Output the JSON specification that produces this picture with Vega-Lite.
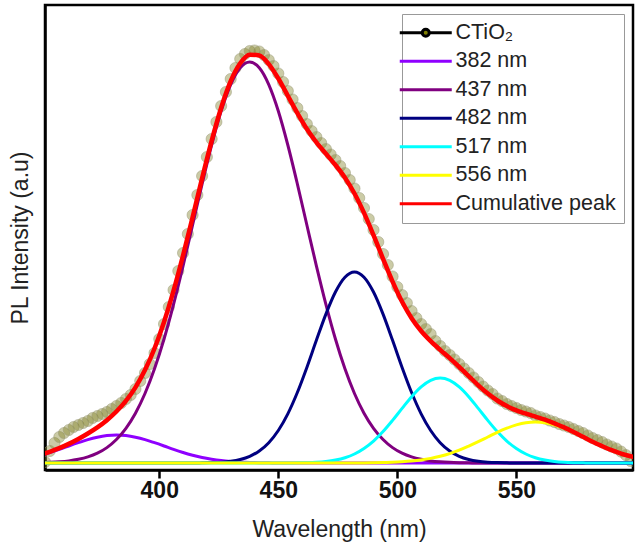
{
"$schema": "https://vega.github.io/schema/vega-lite/v6.json",
"width": 588, "height": 465,
"autosize": {"type": "none"},
"padding": {"left": 45, "top": 5, "right": 11, "bottom": 85},
"background": "white",
"config": {
 "view": {"stroke": "black", "strokeWidth": 2.5},
 "font": "Liberation Sans"
},
"data": {"values": [
{"s":"CTiO₂","x":352,"y":1},{"s":"CTiO₂","x":354,"y":12},{"s":"CTiO₂","x":356,"y":20},{"s":"CTiO₂","x":358,"y":26},{"s":"CTiO₂","x":360,"y":30},{"s":"CTiO₂","x":362,"y":33},{"s":"CTiO₂","x":364,"y":36},{"s":"CTiO₂","x":366,"y":38},{"s":"CTiO₂","x":368,"y":40},{"s":"CTiO₂","x":370,"y":42},{"s":"CTiO₂","x":372,"y":45},{"s":"CTiO₂","x":374,"y":47},{"s":"CTiO₂","x":376,"y":49},{"s":"CTiO₂","x":378,"y":51},{"s":"CTiO₂","x":380,"y":54},{"s":"CTiO₂","x":382,"y":57},{"s":"CTiO₂","x":384,"y":60},{"s":"CTiO₂","x":386,"y":64},{"s":"CTiO₂","x":388,"y":68},{"s":"CTiO₂","x":390,"y":74},{"s":"CTiO₂","x":392,"y":82},{"s":"CTiO₂","x":394,"y":90},{"s":"CTiO₂","x":396,"y":99},{"s":"CTiO₂","x":398,"y":110},{"s":"CTiO₂","x":400,"y":124},{"s":"CTiO₂","x":402,"y":139},{"s":"CTiO₂","x":404,"y":156},{"s":"CTiO₂","x":406,"y":173},{"s":"CTiO₂","x":408,"y":192},{"s":"CTiO₂","x":410,"y":210},{"s":"CTiO₂","x":412,"y":229},{"s":"CTiO₂","x":414,"y":248},{"s":"CTiO₂","x":416,"y":268},{"s":"CTiO₂","x":418,"y":287},{"s":"CTiO₂","x":420,"y":306},{"s":"CTiO₂","x":422,"y":324},{"s":"CTiO₂","x":424,"y":341},{"s":"CTiO₂","x":426,"y":357},{"s":"CTiO₂","x":428,"y":371},{"s":"CTiO₂","x":430,"y":384},{"s":"CTiO₂","x":432,"y":395},{"s":"CTiO₂","x":434,"y":404},{"s":"CTiO₂","x":436,"y":409},{"s":"CTiO₂","x":438,"y":412},{"s":"CTiO₂","x":440,"y":412.5},{"s":"CTiO₂","x":442,"y":411.5},{"s":"CTiO₂","x":444,"y":408},{"s":"CTiO₂","x":446,"y":403},{"s":"CTiO₂","x":448,"y":397},{"s":"CTiO₂","x":450,"y":389.5},{"s":"CTiO₂","x":452,"y":381},{"s":"CTiO₂","x":454,"y":372},{"s":"CTiO₂","x":456,"y":363.5},{"s":"CTiO₂","x":458,"y":355},{"s":"CTiO₂","x":460,"y":347},{"s":"CTiO₂","x":462,"y":339},{"s":"CTiO₂","x":464,"y":332},{"s":"CTiO₂","x":466,"y":326},{"s":"CTiO₂","x":468,"y":320},{"s":"CTiO₂","x":470,"y":314},{"s":"CTiO₂","x":472,"y":308.5},{"s":"CTiO₂","x":474,"y":303},{"s":"CTiO₂","x":476,"y":297},{"s":"CTiO₂","x":478,"y":290},{"s":"CTiO₂","x":480,"y":283},{"s":"CTiO₂","x":482,"y":274.5},{"s":"CTiO₂","x":484,"y":265},{"s":"CTiO₂","x":486,"y":255},{"s":"CTiO₂","x":488,"y":244},{"s":"CTiO₂","x":490,"y":233},{"s":"CTiO₂","x":492,"y":221},{"s":"CTiO₂","x":494,"y":209},{"s":"CTiO₂","x":496,"y":198},{"s":"CTiO₂","x":498,"y":186.5},{"s":"CTiO₂","x":500,"y":176},{"s":"CTiO₂","x":502,"y":168},{"s":"CTiO₂","x":504,"y":160},{"s":"CTiO₂","x":506,"y":152},{"s":"CTiO₂","x":508,"y":145},{"s":"CTiO₂","x":510,"y":139},{"s":"CTiO₂","x":512,"y":134},{"s":"CTiO₂","x":514,"y":129},{"s":"CTiO₂","x":516,"y":122},{"s":"CTiO₂","x":518,"y":117},{"s":"CTiO₂","x":520,"y":112},{"s":"CTiO₂","x":522,"y":108},{"s":"CTiO₂","x":524,"y":103.5},{"s":"CTiO₂","x":526,"y":99},{"s":"CTiO₂","x":528,"y":94.5},{"s":"CTiO₂","x":530,"y":90},{"s":"CTiO₂","x":532,"y":85.5},{"s":"CTiO₂","x":534,"y":81},{"s":"CTiO₂","x":536,"y":76.5},{"s":"CTiO₂","x":538,"y":72.5},{"s":"CTiO₂","x":540,"y":69},{"s":"CTiO₂","x":542,"y":64.5},{"s":"CTiO₂","x":544,"y":62},{"s":"CTiO₂","x":546,"y":59},{"s":"CTiO₂","x":548,"y":57},{"s":"CTiO₂","x":550,"y":55},{"s":"CTiO₂","x":552,"y":53},{"s":"CTiO₂","x":554,"y":51.5},{"s":"CTiO₂","x":556,"y":50},{"s":"CTiO₂","x":558,"y":47.5},{"s":"CTiO₂","x":560,"y":46},{"s":"CTiO₂","x":562,"y":44.5},{"s":"CTiO₂","x":564,"y":42.5},{"s":"CTiO₂","x":566,"y":41},{"s":"CTiO₂","x":568,"y":39},{"s":"CTiO₂","x":570,"y":37.5},{"s":"CTiO₂","x":572,"y":36},{"s":"CTiO₂","x":574,"y":34},{"s":"CTiO₂","x":576,"y":32},{"s":"CTiO₂","x":578,"y":30},{"s":"CTiO₂","x":580,"y":27.5},{"s":"CTiO₂","x":582,"y":25},{"s":"CTiO₂","x":584,"y":23},{"s":"CTiO₂","x":586,"y":21},{"s":"CTiO₂","x":588,"y":18.5},{"s":"CTiO₂","x":590,"y":16.5},{"s":"CTiO₂","x":592,"y":14.5},{"s":"CTiO₂","x":594,"y":11.4},{"s":"CTiO₂","x":596,"y":8},{"s":"CTiO₂","x":598,"y":2},
{"s":"382 nm","x":350,"y":7.8},{"s":"382 nm","x":354,"y":10.5},{"s":"382 nm","x":358,"y":13.6},{"s":"382 nm","x":362,"y":17.0},{"s":"382 nm","x":366,"y":20.3},{"s":"382 nm","x":370,"y":23.4},{"s":"382 nm","x":374,"y":25.8},{"s":"382 nm","x":378,"y":27.4},{"s":"382 nm","x":382,"y":28},{"s":"382 nm","x":386,"y":27.4},{"s":"382 nm","x":390,"y":25.8},{"s":"382 nm","x":394,"y":23.4},{"s":"382 nm","x":398,"y":20.3},{"s":"382 nm","x":402,"y":17.0},{"s":"382 nm","x":406,"y":13.6},{"s":"382 nm","x":410,"y":10.5},{"s":"382 nm","x":414,"y":7.8},{"s":"382 nm","x":418,"y":5.5},{"s":"382 nm","x":422,"y":3.8},{"s":"382 nm","x":426,"y":2.5},{"s":"382 nm","x":430,"y":1.6},{"s":"382 nm","x":434,"y":0.95},{"s":"382 nm","x":438,"y":0.55},{"s":"382 nm","x":442,"y":0.31},{"s":"382 nm","x":446,"y":0.17},{"s":"382 nm","x":450,"y":0},{"s":"382 nm","x":602,"y":0},
{"s":"437 nm","x":350,"y":0.36},{"s":"437 nm","x":354,"y":0.67},{"s":"437 nm","x":358,"y":1.2},{"s":"437 nm","x":362,"y":2.1},{"s":"437 nm","x":366,"y":3.7},{"s":"437 nm","x":370,"y":6.1},{"s":"437 nm","x":374,"y":9.8},{"s":"437 nm","x":378,"y":15.4},{"s":"437 nm","x":382,"y":23.5},{"s":"437 nm","x":386,"y":34.7},{"s":"437 nm","x":390,"y":49.8},{"s":"437 nm","x":394,"y":69.5},{"s":"437 nm","x":398,"y":94.2},{"s":"437 nm","x":402,"y":124.0},{"s":"437 nm","x":406,"y":158.7},{"s":"437 nm","x":410,"y":197.2},{"s":"437 nm","x":414,"y":238.0},{"s":"437 nm","x":418,"y":279.2},{"s":"437 nm","x":422,"y":318.0},{"s":"437 nm","x":426,"y":352.0},{"s":"437 nm","x":430,"y":378.4},{"s":"437 nm","x":434,"y":395.2},{"s":"437 nm","x":438,"y":401},{"s":"437 nm","x":442,"y":395.2},{"s":"437 nm","x":446,"y":378.4},{"s":"437 nm","x":450,"y":352.0},{"s":"437 nm","x":454,"y":318.0},{"s":"437 nm","x":458,"y":279.2},{"s":"437 nm","x":462,"y":238.0},{"s":"437 nm","x":466,"y":197.2},{"s":"437 nm","x":470,"y":158.7},{"s":"437 nm","x":474,"y":124.0},{"s":"437 nm","x":478,"y":94.2},{"s":"437 nm","x":482,"y":69.5},{"s":"437 nm","x":486,"y":49.8},{"s":"437 nm","x":490,"y":34.7},{"s":"437 nm","x":494,"y":23.5},{"s":"437 nm","x":498,"y":15.4},{"s":"437 nm","x":502,"y":9.8},{"s":"437 nm","x":506,"y":6.1},{"s":"437 nm","x":510,"y":3.7},{"s":"437 nm","x":514,"y":2.1},{"s":"437 nm","x":518,"y":1.2},{"s":"437 nm","x":522,"y":0.67},{"s":"437 nm","x":526,"y":0.36},{"s":"437 nm","x":530,"y":0.19},{"s":"437 nm","x":534,"y":0},{"s":"437 nm","x":602,"y":0},
{"s":"482 nm","x":350,"y":0},{"s":"482 nm","x":414,"y":0},{"s":"482 nm","x":418,"y":0.16},{"s":"482 nm","x":422,"y":0.38},{"s":"482 nm","x":426,"y":0.84},{"s":"482 nm","x":430,"y":1.78},{"s":"482 nm","x":434,"y":3.55},{"s":"482 nm","x":438,"y":6.7},{"s":"482 nm","x":442,"y":12.0},{"s":"482 nm","x":446,"y":20.3},{"s":"482 nm","x":450,"y":32.5},{"s":"482 nm","x":454,"y":49.2},{"s":"482 nm","x":458,"y":70.5},{"s":"482 nm","x":462,"y":95.6},{"s":"482 nm","x":466,"y":122.7},{"s":"482 nm","x":470,"y":148.9},{"s":"482 nm","x":474,"y":171.0},{"s":"482 nm","x":478,"y":185.8},{"s":"482 nm","x":482,"y":191},{"s":"482 nm","x":486,"y":185.8},{"s":"482 nm","x":490,"y":171.0},{"s":"482 nm","x":494,"y":148.9},{"s":"482 nm","x":498,"y":122.7},{"s":"482 nm","x":502,"y":95.6},{"s":"482 nm","x":506,"y":70.5},{"s":"482 nm","x":510,"y":49.2},{"s":"482 nm","x":514,"y":32.5},{"s":"482 nm","x":518,"y":20.3},{"s":"482 nm","x":522,"y":12.0},{"s":"482 nm","x":526,"y":6.7},{"s":"482 nm","x":530,"y":3.55},{"s":"482 nm","x":534,"y":1.78},{"s":"482 nm","x":538,"y":0.84},{"s":"482 nm","x":542,"y":0.38},{"s":"482 nm","x":546,"y":0.16},{"s":"482 nm","x":550,"y":0},{"s":"482 nm","x":602,"y":0},
{"s":"517 nm","x":350,"y":0},{"s":"517 nm","x":454,"y":0},{"s":"517 nm","x":458,"y":0.17},{"s":"517 nm","x":462,"y":0.37},{"s":"517 nm","x":466,"y":0.79},{"s":"517 nm","x":470,"y":1.6},{"s":"517 nm","x":474,"y":3.0},{"s":"517 nm","x":478,"y":5.3},{"s":"517 nm","x":482,"y":9.0},{"s":"517 nm","x":486,"y":14.5},{"s":"517 nm","x":490,"y":21.9},{"s":"517 nm","x":494,"y":31.4},{"s":"517 nm","x":498,"y":42.6},{"s":"517 nm","x":502,"y":54.6},{"s":"517 nm","x":506,"y":66.3},{"s":"517 nm","x":510,"y":76.1},{"s":"517 nm","x":514,"y":82.7},{"s":"517 nm","x":518,"y":85},{"s":"517 nm","x":522,"y":82.7},{"s":"517 nm","x":526,"y":76.1},{"s":"517 nm","x":530,"y":66.3},{"s":"517 nm","x":534,"y":54.6},{"s":"517 nm","x":538,"y":42.6},{"s":"517 nm","x":542,"y":31.4},{"s":"517 nm","x":546,"y":21.9},{"s":"517 nm","x":550,"y":14.5},{"s":"517 nm","x":554,"y":9.0},{"s":"517 nm","x":558,"y":5.3},{"s":"517 nm","x":562,"y":3.0},{"s":"517 nm","x":566,"y":1.6},{"s":"517 nm","x":570,"y":0.79},{"s":"517 nm","x":574,"y":0.37},{"s":"517 nm","x":578,"y":0.17},{"s":"517 nm","x":582,"y":0},{"s":"517 nm","x":602,"y":0},
{"s":"556 nm","x":350,"y":0},{"s":"556 nm","x":486,"y":0.11},{"s":"556 nm","x":490,"y":0.22},{"s":"556 nm","x":494,"y":0.39},{"s":"556 nm","x":498,"y":0.69},{"s":"556 nm","x":502,"y":1.17},{"s":"556 nm","x":506,"y":1.9},{"s":"556 nm","x":510,"y":3.0},{"s":"556 nm","x":514,"y":4.6},{"s":"556 nm","x":518,"y":6.7},{"s":"556 nm","x":522,"y":9.4},{"s":"556 nm","x":526,"y":12.8},{"s":"556 nm","x":530,"y":16.9},{"s":"556 nm","x":534,"y":21.3},{"s":"556 nm","x":538,"y":26.0},{"s":"556 nm","x":542,"y":30.7},{"s":"556 nm","x":546,"y":34.8},{"s":"556 nm","x":550,"y":38.1},{"s":"556 nm","x":554,"y":40.3},{"s":"556 nm","x":558,"y":41},{"s":"556 nm","x":562,"y":40.3},{"s":"556 nm","x":566,"y":38.1},{"s":"556 nm","x":570,"y":34.8},{"s":"556 nm","x":574,"y":30.7},{"s":"556 nm","x":578,"y":26.0},{"s":"556 nm","x":582,"y":21.3},{"s":"556 nm","x":586,"y":16.9},{"s":"556 nm","x":590,"y":12.8},{"s":"556 nm","x":594,"y":9.4},{"s":"556 nm","x":598,"y":6.7},{"s":"556 nm","x":602,"y":4.6},
{"s":"Cumulative peak","x":350,"y":8.2},{"s":"Cumulative peak","x":354,"y":11.2},{"s":"Cumulative peak","x":358,"y":14.8},{"s":"Cumulative peak","x":362,"y":19.1},{"s":"Cumulative peak","x":366,"y":24.0},{"s":"Cumulative peak","x":370,"y":29.5},{"s":"Cumulative peak","x":374,"y":35.6},{"s":"Cumulative peak","x":378,"y":42.8},{"s":"Cumulative peak","x":382,"y":51.5},{"s":"Cumulative peak","x":386,"y":62.1},{"s":"Cumulative peak","x":390,"y":75.6},{"s":"Cumulative peak","x":394,"y":92.9},{"s":"Cumulative peak","x":398,"y":114.5},{"s":"Cumulative peak","x":402,"y":141.0},{"s":"Cumulative peak","x":406,"y":172.3},{"s":"Cumulative peak","x":410,"y":207.7},{"s":"Cumulative peak","x":414,"y":245.8},{"s":"Cumulative peak","x":418,"y":284.9},{"s":"Cumulative peak","x":422,"y":322.2},{"s":"Cumulative peak","x":426,"y":355.3},{"s":"Cumulative peak","x":430,"y":381.8},{"s":"Cumulative peak","x":434,"y":399.7},{"s":"Cumulative peak","x":438,"y":408.3},{"s":"Cumulative peak","x":442,"y":407.5},{"s":"Cumulative peak","x":446,"y":398.9},{"s":"Cumulative peak","x":450,"y":384.5},{"s":"Cumulative peak","x":454,"y":367.2},{"s":"Cumulative peak","x":458,"y":349.9},{"s":"Cumulative peak","x":462,"y":334.0},{"s":"Cumulative peak","x":466,"y":320.7},{"s":"Cumulative peak","x":470,"y":309.2},{"s":"Cumulative peak","x":474,"y":298.0},{"s":"Cumulative peak","x":478,"y":285.3},{"s":"Cumulative peak","x":482,"y":269.5},{"s":"Cumulative peak","x":486,"y":250.1},{"s":"Cumulative peak","x":490,"y":227.8},{"s":"Cumulative peak","x":494,"y":204.2},{"s":"Cumulative peak","x":498,"y":181.4},{"s":"Cumulative peak","x":502,"y":161.2},{"s":"Cumulative peak","x":506,"y":144.8},{"s":"Cumulative peak","x":510,"y":132.0},{"s":"Cumulative peak","x":514,"y":121.9},{"s":"Cumulative peak","x":518,"y":113.2},{"s":"Cumulative peak","x":522,"y":104.8},{"s":"Cumulative peak","x":526,"y":96.0},{"s":"Cumulative peak","x":530,"y":86.9},{"s":"Cumulative peak","x":534,"y":77.7},{"s":"Cumulative peak","x":538,"y":69.4},{"s":"Cumulative peak","x":542,"y":62.5},{"s":"Cumulative peak","x":546,"y":56.9},{"s":"Cumulative peak","x":550,"y":52.6},{"s":"Cumulative peak","x":554,"y":49.3},{"s":"Cumulative peak","x":558,"y":46.3},{"s":"Cumulative peak","x":562,"y":43.3},{"s":"Cumulative peak","x":566,"y":39.7},{"s":"Cumulative peak","x":570,"y":35.6},{"s":"Cumulative peak","x":574,"y":31.1},{"s":"Cumulative peak","x":578,"y":26.2},{"s":"Cumulative peak","x":582,"y":21.3},{"s":"Cumulative peak","x":586,"y":16.9},{"s":"Cumulative peak","x":590,"y":12.8},{"s":"Cumulative peak","x":594,"y":9.4},{"s":"Cumulative peak","x":598,"y":6.7},{"s":"Cumulative peak","x":602,"y":4.6}
]},
"encoding": {
 "x": {"field": "x", "type": "quantitative", "scale": {"domain": [352, 599], "nice": false, "zero": false},
  "axis": {"title": "Wavelength (nm)", "values": [400, 450, 500, 550], "format": "d", "grid": false,
   "domainColor": "black", "domainWidth": 2.5, "tickColor": "black", "tickWidth": 2.5, "tickSize": 8,
   "labelFont": "Liberation Sans", "labelFontSize": 23, "labelFontWeight": "bold", "labelColor": "#111", "labelPadding": 1,
   "titleFont": "Liberation Sans", "titleFontSize": 23, "titleFontWeight": "normal", "titleColor": "#222", "titlePadding": 16}},
 "y": {"field": "y", "type": "quantitative", "scale": {"domain": [-7, 458], "nice": false, "zero": false},
  "axis": {"title": "PL Intensity (a.u)", "ticks": false, "labels": false, "grid": false,
   "domainColor": "black", "domainWidth": 2.5,
   "titleFont": "Liberation Sans", "titleFontSize": 23, "titleFontWeight": "normal", "titleColor": "#222", "titlePadding": 13}}
},
"layer": [
 {"transform": [{"filter": {"field": "s", "equal": "CTiO₂"}}],
  "mark": {"type": "point", "filled": true, "size": 125, "fill": "#7d7d20", "fillOpacity": 0.4, "stroke": "#9a9a78", "strokeOpacity": 0.5, "strokeWidth": 1, "clip": true}},
 {"transform": [{"filter": {"field": "s", "oneOf": ["382 nm", "437 nm", "482 nm", "517 nm", "556 nm"]}}],
  "mark": {"type": "line", "strokeWidth": 3, "interpolate": "monotone", "clip": true},
  "encoding": {"color": {"field": "s", "type": "nominal",
   "scale": {"domain": ["CTiO₂", "382 nm", "437 nm", "482 nm", "517 nm", "556 nm", "Cumulative peak"],
             "range": ["black", "#8F00FF", "#800080", "#000080", "#00FFFF", "#FFFF00", "#FF0000"]},
   "legend": {"title": null, "orient": "top-right", "offset": 9, "padding": 8,
     "strokeColor": "#999", "fillColor": "white",
     "symbolType": "stroke", "symbolSize": 100, "symbolStrokeWidth": 3, "symbolOffset": 5,
     "labelOffset": 19, "labelFont": "Liberation Sans", "labelFontSize": 21.5, "labelColor": "#222",
     "rowPadding": 5.5, "labelLimit": 300,
     "encode": {"symbols": {"update": {
        "shape": {"signal": "datum.value === 'CTiO₂' ? 'M-5.2,0H-0.7M0.7,0H5.2M0.7,0A0.7,0.7,0,1,1,-0.7,0A0.7,0.7,0,1,1,0.7,0Z' : 'M-5.2,0H5.2'"},
        "fill": {"signal": "datum.value === 'CTiO₂' ? '#808000' : 'transparent'"}}}}}}}},
 {"transform": [{"filter": {"field": "s", "equal": "Cumulative peak"}}],
  "mark": {"type": "line", "strokeWidth": 4.5, "interpolate": "monotone", "clip": true},
  "encoding": {"color": {"field": "s", "type": "nominal"}}}
]
}
